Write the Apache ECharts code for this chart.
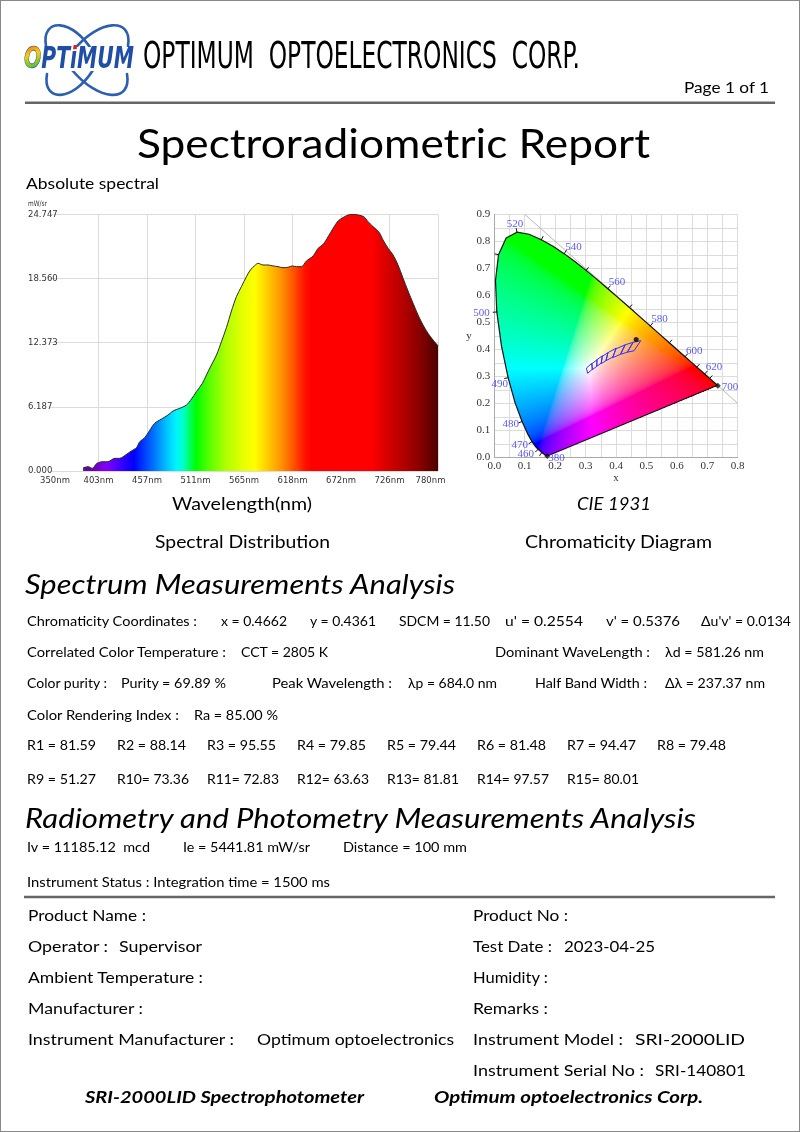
<!DOCTYPE html>
<html><head><meta charset="utf-8">
<script src="https://cdn.jsdelivr.net/npm/echarts@6/dist/echarts.min.js"></script>
<style>
html,body{margin:0;padding:0;background:#fff;}
#page{position:relative;width:800px;height:1132px;overflow:hidden;background:#fff;}
#chart{position:absolute;left:0;top:0;width:800px;height:1132px;}
#overlay{position:absolute;left:0;top:0;pointer-events:none;}
</style></head><body>
<div id="page"><div id="chart"></div><svg id="overlay" width="800" height="1132" xmlns="http://www.w3.org/2000/svg"></svg></div>
<script>
// ================= DATA =================
const spectrumWavelengths = [386.7,392.2,397,402,408.9,414,421.8,427,434.6,440.2,445.8,449.5,455,460.5,466,473.5,480.8,486.4,493.8,501.2,506.8,512.3,518.9,523.4,528.9,534.5,540,545.5,551.1,556.6,562.1,567.7,572.1,576.9,580.6,586.1,591.7,597.2,602.8,608.3,613.8,618.7,623.1,628.6,634.2,641.6,647.2,652.7,658.2,663.8,669.3,674.8,680.4,685.9,691.4,697.7,702.5,708,714.7,719.1,724.7,730.2,735.7,741.3,746.8,752.4,757.9,763.4,769,774.5,780];
const spectrumValues = [0.3,0.42,0.26,0.74,0.9,0.9,1.22,1.22,1.6,1.93,2.25,2.83,3.21,3.92,4.6,5.01,5.4,5.79,6.04,6.36,6.94,7.65,8.45,9.26,10.22,11.18,12.47,13.82,15.43,16.81,17.77,18.74,19.38,19.8,20.02,19.86,19.86,19.77,19.7,19.6,19.64,19.77,19.7,19.7,20.25,20.73,21.47,21.85,22.59,23.4,24.1,24.43,24.68,24.747,24.68,24.52,24.04,23.56,23.01,22.27,21.47,20.83,19.86,18.58,17.35,16.17,15.04,14.08,13.27,12.63,12.08];
const spectrumXTickLabels = ['350nm','403nm','457nm','511nm','565nm','618nm','672nm','726nm','780nm'];
const spectrumYTickLabels = ['0.000','6.187','12.373','18.560','24.747'];

// CIE 1931 spectral locus (x, y) 380..700 nm, 5 nm steps
const locusWavelengths = [380,385,390,395,400,405,410,415,420,425,430,435,440,445,450,455,460,465,470,475,480,485,490,495,500,505,510,515,520,525,530,535,540,545,550,555,560,565,570,575,580,585,590,595,600,605,610,615,620,625,630,635,640,645,650,655,660,665,670,675,680,685,690,695,700];
const locusX = [0.1741,0.1740,0.1738,0.1736,0.1733,0.1730,0.1726,0.1721,0.1714,0.1703,0.1689,0.1669,0.1644,0.1611,0.1566,0.1510,0.1440,0.1355,0.1241,0.1096,0.0913,0.0687,0.0454,0.0235,0.0082,0.0039,0.0139,0.0389,0.0743,0.1142,0.1547,0.1929,0.2296,0.2658,0.3016,0.3373,0.3731,0.4087,0.4441,0.4788,0.5125,0.5448,0.5752,0.6029,0.6270,0.6482,0.6658,0.6801,0.6915,0.7006,0.7079,0.7140,0.7190,0.7230,0.7260,0.7283,0.7300,0.7311,0.7320,0.7327,0.7334,0.7340,0.7344,0.7346,0.7347];
const locusY = [0.0050,0.0050,0.0049,0.0049,0.0048,0.0048,0.0048,0.0048,0.0051,0.0058,0.0069,0.0086,0.0109,0.0138,0.0177,0.0227,0.0297,0.0399,0.0578,0.0868,0.1327,0.2007,0.2950,0.4127,0.5384,0.6548,0.7502,0.8120,0.8338,0.8262,0.8059,0.7816,0.7543,0.7243,0.6923,0.6589,0.6245,0.5896,0.5547,0.5202,0.4866,0.4544,0.4242,0.3965,0.3725,0.3514,0.3340,0.3197,0.3083,0.2993,0.2920,0.2859,0.2809,0.2770,0.2740,0.2717,0.2700,0.2689,0.2680,0.2673,0.2666,0.2660,0.2656,0.2654,0.2653];
const locusLabelWavelengths = [380,460,470,480,490,500,520,540,560,580,600,620,700];
const locusTickWavelengths = [450,460,470,480,490,500,510,520,530,540,550,560,570,580,590,600,610,620,630];
const cieXTickLabels = ['0.0','0.1','0.2','0.3','0.4','0.5','0.6','0.7','0.8'];
const cieYTickLabels = ['0.0','0.1','0.2','0.3','0.4','0.5','0.6','0.7','0.8','0.9'];
const diagonalLine = [[0.1,0.9],[0.8,0.2]];
const measuredPoint = [0.4662, 0.4361];
// ANSI C78.377 quadrangles (6500K .. 2700K)
const ansiQuads = [
  [[0.3205,0.3481],[0.3028,0.3304],[0.3068,0.3113],[0.3221,0.3261]],
  [[0.3376,0.3616],[0.3207,0.3462],[0.3222,0.3243],[0.3366,0.3369]],
  [[0.3551,0.3760],[0.3376,0.3616],[0.3366,0.3369],[0.3515,0.3487]],
  [[0.3736,0.3874],[0.3548,0.3736],[0.3512,0.3465],[0.3670,0.3578]],
  [[0.4006,0.4044],[0.3736,0.3874],[0.3670,0.3578],[0.3898,0.3716]],
  [[0.4299,0.4165],[0.3996,0.4015],[0.3889,0.3690],[0.4147,0.3814]],
  [[0.4562,0.4260],[0.4299,0.4165],[0.4147,0.3814],[0.4373,0.3893]],
  [[0.4813,0.4319],[0.4562,0.4260],[0.4373,0.3893],[0.4593,0.3944]]
];

// Report values
const chromaticityItems = ['x = 0.4662','y = 0.4361','SDCM = 11.50',"u' = 0.2554","v' = 0.5376","Δu'v' = 0.0134"];
const cctText = 'CCT = 2805 K';
const dominantText = 'λd = 581.26 nm';
const purityText = 'Purity = 69.89 %';
const peakText = 'λp = 684.0 nm';
const halfBandText = 'Δλ = 237.37 nm';
const raText = 'Ra = 85.00 %';
const criValues = ['81.59','88.14','95.55','79.85','79.44','81.48','94.47','79.48','51.27','73.36','72.83','63.63','81.81','97.57','80.01'];
const photometryItems = ['Iv = 11185.12  mcd','Ie = 5441.81 mW/sr','Distance = 100 mm'];
const statusText = 'Instrument Status : Integration time = 1500 ms';

// ================= STYLE =================
const spectrumColorStops = [[386.7,'#5c0c8c'],[400,'#7000c0'],[413,'#8000ff'],[424,'#5000ff'],[436,'#1800ff'],[443,'#0000ff'],[455,'#0040ff'],[466,'#0078ff'],[479,'#00c0ff'],[490,'#00f4ff'],[497,'#00ffd0'],[505,'#00ff60'],[512,'#00ff00'],[525,'#50ff00'],[545,'#b0ff00'],[565,'#e8ff00'],[577,'#ffff00'],[592,'#ffc800'],[607,'#ff9000'],[622,'#ff4800'],[633,'#ff1000'],[640,'#ff0000'],[706,'#ff0000'],[723,'#d80000'],[741,'#b40000'],[759,'#8a0000'],[780,'#4c0000']];
const locusLabelPlacement = {
  380:{position:'right',distance:1,offset:[0,2]},
  460:{position:'left',distance:4,offset:[0,5]},
  470:{position:'left',distance:4,offset:[0,3]},
  480:{position:'left',distance:3,offset:[0,3]},
  490:{position:'left',distance:0,offset:[0,6]},
  500:{position:'left',distance:7,offset:[0,1]},
  520:{position:'top',distance:3,offset:[-2,0]},
  540:{position:'right',distance:1,offset:[0,-7]},
  560:{position:'right',distance:1,offset:[0,-7]},
  580:{position:'right',distance:1,offset:[0,-7]},
  600:{position:'right',distance:1,offset:[0,-6]},
  620:{position:'right',distance:1,offset:[0,-7]},
  700:{position:'right',distance:4,offset:[0,1]}
};

// ================= CHART =================
const chart = echarts.init(document.getElementById('chart'), null, {renderer:'canvas'});
const wlMin = spectrumWavelengths[0], wlMax = spectrumWavelengths[spectrumWavelengths.length-1];
const gradStops = spectrumColorStops.map(s => ({offset: Math.min(1, Math.max(0, (s[0]-wlMin)/(wlMax-wlMin))), color: s[1]}));

function xyToRgb(x, y) {
  const Y = 1, X = x / y, Z = (1 - x - y) / y;
  let r = 3.2406*X - 1.5372*Y - 0.4986*Z;
  let g = -0.9689*X + 1.8758*Y + 0.0415*Z;
  let b = 0.0557*X - 0.2040*Y + 1.0570*Z;
  r = Math.max(r,0); g = Math.max(g,0); b = Math.max(b,0);
  const m = Math.max(r,g,b) || 1; r/=m; g/=m; b/=m;
  const gam = v => v <= 0.0031308 ? 12.92*v : 1.055*Math.pow(v,1/2.4) - 0.055;
  return [gam(r)*255, gam(g)*255, gam(b)*255];
}
function insidePoly(x, y, px, py) {
  let c = false;
  for (let i = 0, j = px.length-1; i < px.length; j = i++) {
    if (((py[i] > y) !== (py[j] > y)) && (x < (px[j]-px[i])*(y-py[i])/(py[j]-py[i]) + px[i])) c = !c;
  }
  return c;
}
function renderCieFill(params, api) {
  const o = api.coord([0,0]), e = api.coord([1,1]);
  const sx = e[0]-o[0], sy = e[1]-o[1];
  let minX=Infinity, minY=Infinity, maxX=-Infinity, maxY=-Infinity;
  for (let i=0;i<locusX.length;i++){
    const p = api.coord([locusX[i], locusY[i]]);
    minX=Math.min(minX,p[0]); maxX=Math.max(maxX,p[0]); minY=Math.min(minY,p[1]); maxY=Math.max(maxY,p[1]);
  }
  const x0 = Math.floor(minX), y0 = Math.floor(minY);
  const w = Math.ceil(maxX)-x0+1, h = Math.ceil(maxY)-y0+1;
  const c = document.createElement('canvas'); c.width = w; c.height = h;
  const ctx = c.getContext('2d'); const img = ctx.createImageData(w,h);
  for (let py=0; py<h; py++) for (let px=0; px<w; px++) {
    const X = (x0+px+0.5-o[0])/sx, Y = (y0+py+0.5-o[1])/sy;
    if (!insidePoly(X, Y, locusX, locusY)) continue;
    const rgb = xyToRgb(X, Math.max(Y,0.001));
    const k = (py*w+px)*4;
    img.data[k]=rgb[0]; img.data[k+1]=rgb[1]; img.data[k+2]=rgb[2]; img.data[k+3]=255;
  }
  ctx.putImageData(img,0,0);
  return {type:'image', style:{image:c, x:x0, y:y0, width:w, height:h}};
}
function renderLocusTick(params, api) {
  const wl = api.value(2);
  const i = locusWavelengths.indexOf(wl);
  const p = api.coord([locusX[i], locusY[i]]);
  const a = api.coord([locusX[i-1], locusY[i-1]]), b = api.coord([locusX[i+1], locusY[i+1]]);
  let tx = b[0]-a[0], ty = b[1]-a[1]; const L = Math.hypot(tx,ty)||1; tx/=L; ty/=L;
  let nx = ty, ny = -tx;
  const wp = api.coord([0.33,0.33]);
  if ((p[0]-wp[0])*nx + (p[1]-wp[1])*ny < 0) { nx=-nx; ny=-ny; }
  return {type:'line', shape:{x1:p[0]-nx*0.5, y1:p[1]-ny*0.5, x2:p[0]+nx*4, y2:p[1]+ny*4}, style:{stroke:'#111', lineWidth:1}};
}
function renderQuad(params, api) {
  const q = ansiQuads[api.value(0)];
  return {type:'polygon', shape:{points:q.map(pt => api.coord(pt))}, style:{fill:'none', stroke:'#3030ff', lineWidth:1}};
}

const serif = '"Liberation Serif","DejaVu Serif",serif';
const labelData = locusLabelWavelengths.map(wl => {
  const i = locusWavelengths.indexOf(wl);
  const pl = locusLabelPlacement[wl];
  return {value:[locusX[i], locusY[i], wl], label:{show:true, position:pl.position, distance:pl.distance, offset:pl.offset}};
});

const option = {
  animation:false,
  grid:[
    {left:50, top:214.3, width:388, height:256.7, containLabel:false, outerBoundsMode:'none'},
    {left:494.3, top:214.3, width:243.4, height:243, containLabel:false, outerBoundsMode:'none'}
  ],
  xAxis:[
    {gridIndex:0, type:'value', min:350, max:780, interval:53.75,
     axisLine:{show:false}, axisTick:{show:false},
     splitLine:{show:true, showMinLine:false, lineStyle:{color:'#dcdcdc', width:1}},
     axisLabel:{margin:5, color:'#333', fontSize:8.5, fontFamily:'"DejaVu Sans",sans-serif',
       formatter:(v)=>{const k=Math.round((v-350)/53.75); const s=spectrumXTickLabels[k]; if(k===0) return '{f|'+s+'}'; if(k===spectrumXTickLabels.length-1) return '{l|'+s+'}'; return s;},
       rich:{f:{padding:[0,0,0,10],fontSize:8.5,color:'#333',fontFamily:'"DejaVu Sans",sans-serif'}, l:{padding:[0,15,0,0],fontSize:8.5,color:'#333',fontFamily:'"DejaVu Sans",sans-serif'}}}},
    {gridIndex:1, type:'value', min:0, max:0.8, interval:0.1, name:'x', nameLocation:'middle', nameGap:9,
     nameTextStyle:{fontFamily:serif, fontSize:11, color:'#333'},
     axisLine:{show:true, lineStyle:{color:'#aaa'}}, axisTick:{show:false},
     minorTick:{show:false, splitNumber:2}, minorSplitLine:{show:true, lineStyle:{color:'#dcdcdc'}},
     splitLine:{show:true, lineStyle:{color:'#dcdcdc'}},
     axisLabel:{margin:3, color:'#333', fontSize:11, fontFamily:serif, formatter:(v)=>cieXTickLabels[Math.round(v*10)]}}
  ],
  yAxis:[
    {gridIndex:0, type:'value', min:0, max:24.747, interval:6.18675,
     axisLine:{show:false}, axisTick:{show:false},
     splitLine:{show:true, lineStyle:{color:'#dcdcdc', width:1}},
     axisLabel:{align:'left', margin:22, color:'#333', fontSize:8.5, fontFamily:'"DejaVu Sans",sans-serif',
       formatter:(v)=>spectrumYTickLabels[Math.round(v/6.18675)]}},
    {gridIndex:1, type:'value', min:0, max:0.9, interval:0.1, name:'y', nameLocation:'middle', nameGap:13, nameRotate:0,
     nameTextStyle:{fontFamily:serif, fontSize:11, color:'#333'},
     axisLine:{show:true, lineStyle:{color:'#aaa'}}, axisTick:{show:false},
     minorTick:{show:false, splitNumber:2}, minorSplitLine:{show:true, lineStyle:{color:'#dcdcdc'}},
     splitLine:{show:true, lineStyle:{color:'#dcdcdc'}},
     axisLabel:{margin:4, color:'#333', fontSize:11, fontFamily:serif, formatter:(v)=>cieYTickLabels[Math.round(v*10)]}}
  ],
  series:[
    {type:'line', xAxisIndex:0, yAxisIndex:0, data:spectrumWavelengths.map((w,i)=>[w, spectrumValues[i]]),
     showSymbol:false, symbol:'none', smooth:0.3, lineStyle:{color:'#2a2a2a', width:1},
     areaStyle:{opacity:1, color:new echarts.graphic.LinearGradient(0,0,1,0,gradStops)}, z:2},
    {type:'line', xAxisIndex:1, yAxisIndex:1, data:diagonalLine, symbol:'none', lineStyle:{color:'#b8b8b8', width:1}, z:1},
    {type:'custom', xAxisIndex:1, yAxisIndex:1, data:[[0]], renderItem:renderCieFill, z:2, silent:true},
    {type:'line', xAxisIndex:1, yAxisIndex:1, data:locusX.map((x,i)=>[x,locusY[i]]).concat([[locusX[0],locusY[0]]]),
     symbol:'none', lineStyle:{color:'#111', width:1.2}, z:3},
    {type:'custom', xAxisIndex:1, yAxisIndex:1, data:locusTickWavelengths.map(wl=>{const i=locusWavelengths.indexOf(wl); return [locusX[i],locusY[i],wl];}),
     renderItem:renderLocusTick, z:3, silent:true},
    {type:'custom', xAxisIndex:1, yAxisIndex:1, data:ansiQuads.map((q,i)=>[i]), renderItem:renderQuad, z:4, silent:true, clip:false},
    {type:'scatter', xAxisIndex:1, yAxisIndex:1, data:labelData, symbolSize:0, z:5,
     label:{show:true, color:'#2f2fff', fontSize:11, fontFamily:serif, formatter:(p)=>String(p.value[2])}},
    {type:'scatter', xAxisIndex:1, yAxisIndex:1, data:[[locusX[0],locusY[0]],[locusX[locusX.length-1],locusY[locusY.length-1]]],
     symbol:'diamond', symbolSize:6, itemStyle:{color:'#111'}, z:5},
    {type:'scatter', xAxisIndex:1, yAxisIndex:1, data:[measuredPoint], symbolSize:5, itemStyle:{color:'#000'}, z:6}
  ]
};
chart.setOption(option);

// ================= REPORT TEXT (SVG overlay) =================
const svgNS = 'http://www.w3.org/2000/svg';
const svg = document.getElementById('overlay');
const BODY = 'Lato,"Open Sans","Noto Sans",sans-serif';
const NARROW = '"Liberation Sans Narrow","DejaVu Sans Condensed","Roboto",sans-serif';
function el(tag, attrs, parent) { const e = document.createElementNS(svgNS, tag); for (const k in attrs) e.setAttribute(k, attrs[k]); (parent||svg).appendChild(e); return e; }
function txt(s, x, y, size, width, o) {
  o = o || {};
  const t = el('text', {x:x, y:y, 'font-size':size, 'font-family':o.family||BODY, fill:o.color||'#000'});
  if (o.italic) t.setAttribute('font-style','italic');
  if (o.bold) t.setAttribute('font-weight','bold');
  if (width) { t.setAttribute('textLength', width); t.setAttribute('lengthAdjust','spacingAndGlyphs'); }
  t.setAttribute('style','white-space:pre');
  t.textContent = s;
  return t;
}
// page frame and rules
el('rect', {x:0.5, y:0.5, width:799, height:1131, fill:'none', stroke:'#888', 'stroke-width':1});
el('line', {x1:25, y1:102.7, x2:775, y2:102.7, stroke:'#666', 'stroke-width':2.5});
el('line', {x1:24, y1:897, x2:775, y2:897, stroke:'#666', 'stroke-width':2.5});

// logo
const defs = el('defs', {});
const rg = el('linearGradient', {id:'rainbow', x1:'0', y1:'0', x2:'1', y2:'1'}, defs);
[['0','#ff2020'],['0.25','#ffd000'],['0.5','#20c040'],['0.75','#2060ff'],['1','#8020c0']].forEach(s=>el('stop',{offset:s[0],'stop-color':s[1]},rg));
const ig = el('linearGradient', {id:'idot', gradientUnits:'userSpaceOnUse', x1:'0', y1:'44', x2:'0', y2:'68'}, defs);
[['0','#e02020'],['0.28','#e02020'],['0.29','#1e4ea6'],['1','#1e4ea6']].forEach(s=>el('stop',{offset:s[0],'stop-color':s[1]},ig));
const logo = el('g', {fill:'none', stroke:'#2b5fb4', 'stroke-width':2.6, 'stroke-linecap':'round'});
el('path', {d:'M46,46 C41,17 73,18 93,52'}, logo);
el('path', {d:'M128,46 C133,17 99,18 72,52'}, logo);
el('path', {d:'M47,74 C42,103 73,102 93,70'}, logo);
el('path', {d:'M127,74 C132,103 99,102 72,70'}, logo);
el('rect', {x:22, y:47, width:116, height:24, fill:'#fff'});
const lt = txt('', 24, 67.5, 31, 110, {family:NARROW, italic:true, bold:true, color:'#1e4ea6'});
const t1 = el('tspan', {fill:'url(#rainbow)', stroke:'#1e4ea6', 'stroke-width':0.6}, lt); t1.textContent='O';
const t2 = el('tspan', {}, lt); t2.textContent='PT';
const t3 = el('tspan', {fill:'url(#idot)'}, lt); t3.textContent='i';
const t4 = el('tspan', {}, lt); t4.textContent='MUM';

txt('OPTIMUM  OPTOELECTRONICS  CORP.', 143, 68.3, 37, 437, {family:NARROW});
txt('Page 1 of 1', 684, 93, 15, 85);
txt('Spectroradiometric Report', 137, 158, 40, 513);
txt('Absolute spectral', 26, 189, 15, 133);
txt('mW/sr', 28, 205.5, 7.5, 19, {family:'"DejaVu Sans",sans-serif', color:'#333'});
txt('Wavelength(nm)', 172, 509.5, 17, 140);
txt('CIE 1931', 577, 509.5, 17, 74, {italic:true});
txt('Spectral Distribution', 155, 548, 17, 175);
txt('Chromaticity Diagram', 525, 548, 17, 187);
txt('Spectrum Measurements Analysis', 25, 593.5, 27, 430, {italic:true});

const S = 13.4;
txt('Chromaticity Coordinates :', 27, 625.7, S, 170);
[[221,66],[310,66],[399,91],[505,78],[606,74],[701,90]].forEach((p,i)=>txt(chromaticityItems[i], p[0], 625.7, S, p[1]));
txt('Correlated Color Temperature :', 27, 656.7, S, 199);
txt(cctText, 241, 656.7, S, 87);
txt('Dominant WaveLength :', 495, 656.7, S, 155);
txt(dominantText, 665, 656.7, S, 99);
txt('Color purity :', 27, 687.7, S, 80);
txt(purityText, 121, 687.7, S, 105);
txt('Peak Wavelength :', 272, 687.7, S, 120);
txt(peakText, 408, 687.7, S, 89);
txt('Half Band Width :', 535, 687.7, S, 112);
txt(halfBandText, 665, 687.7, S, 100);
txt('Color Rendering Index :', 27, 719.5, S, 152);
txt(raText, 194, 719.5, S, 84);
criValues.forEach((v,i)=>{
  const n = i+1;
  const label = n < 10 ? ('R'+n+' = '+v) : ('R'+n+'= '+v);
  txt(label, 27 + (i%8)*90, i<8 ? 749.9 : 783.9, S, n<10 ? 69 : 72);
});
txt('Radiometry and Photometry Measurements Analysis', 25, 827.5, 27, 671, {italic:true});
[[27,123],[183,127],[343,124]].forEach((p,i)=>txt(photometryItems[i], p[0], 851.9, S, p[1]));
txt(statusText, 27, 886.9, S, 303);

const B = 16;
const infoRows = [
  [['Product Name :',28,118],['Product No :',473,95]],
  [['Operator :',28,80],['Supervisor',119,83],['Test Date :',473,79],['2023-04-25',564,91]],
  [['Ambient Temperature :',28,175],['Humidity :',473,75]],
  [['Manufacturer :',28,115],['Remarks :',473,75]],
  [['Instrument Manufacturer :',28,206],['Optimum optoelectronics',257,197],['Instrument Model :',473,150],['SRI-2000LID',635,110]],
  [['Instrument Serial No :',473,171],['SRI-140801',655,91]]
];
infoRows.forEach((row,r)=>row.forEach(it=>txt(it[0], it[1], 920.7 + r*31, B, it[2])));
txt('SRI-2000LID Spectrophotometer', 85, 1103, 17, 279, {italic:true, bold:true});
txt('Optimum optoelectronics Corp.', 434, 1103, 17, 269, {italic:true, bold:true});
</script>
</body></html>
